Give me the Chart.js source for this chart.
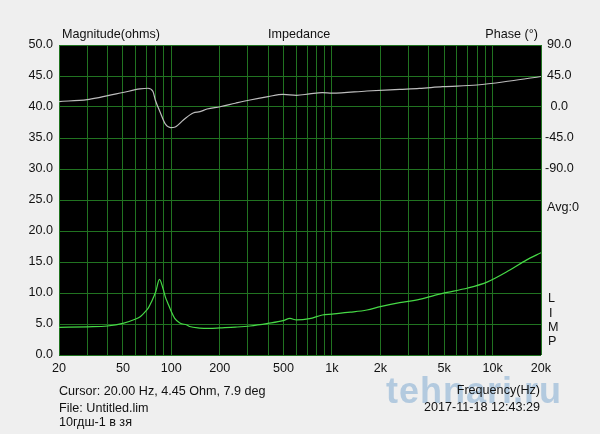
<!DOCTYPE html>
<html>
<head>
<meta charset="utf-8">
<script src="https://cdn.jsdelivr.net/npm/chart.js@4/dist/chart.umd.min.js"></script>
<style>
  html, body { margin: 0; padding: 0; background: #efefef; }
  #wrap { position: relative; width: 600px; height: 434px; overflow: hidden; font-family: "Liberation Sans", Arial, sans-serif; color: #111; }
  canvas { position: absolute; left: 0; top: 0; }
  .t { position: absolute; font-size: 12.6px; line-height: 14px; white-space: nowrap; z-index: 3; }
  .wm { position: absolute; z-index: 2; font-family: "Liberation Sans", Arial, sans-serif; font-weight: bold; font-size: 36px; letter-spacing: 1px; color: rgba(95,150,200,0.42); left: 386px; top: 371px; line-height: 40px; }
</style>
</head>
<body>
<div id="wrap">
  <canvas id="c" width="600" height="434"></canvas>
  <div class="t" style="left:62px; top:27px;">Magnitude(ohms)</div>
  <div class="t" style="left:268px; top:27px;">Impedance</div>
  <div class="t" style="right:62px; top:27px;">Phase (°)</div>
  <div class="t" style="left:547px; top:200px;">Avg:0</div>
  <div class="t" style="left:548px; top:291px;">L</div>
  <div class="t" style="left:549px; top:306px;">I</div>
  <div class="t" style="left:548px; top:320px;">M</div>
  <div class="t" style="left:548px; top:334px;">P</div>
  <div class="t" style="left:59px; top:384px;">Cursor: 20.00 Hz, 4.45 Ohm, 7.9 deg</div>
  <div class="t" style="left:59px; top:401px;">File: Untitled.lim</div>
  <div class="t" style="left:59px; top:415px;">10гдш-1 в зя</div>
  <div class="wm">tehnari.ru</div>
  <div class="t" style="right:60px; top:383px;">Frequency(Hz)</div>
  <div class="t" style="right:60px; top:400px;">2017-11-18 12:43:29</div>
</div>
<script>
const magFreq = [20,30,40,50,60,64,70,72,75,80,84.4,88.6,92,95,100,105,113,125,130,150,173,201,250,309,400,496,548,601,725,870,1000,1300,1650,2000,2640,3500,4880,7000,9300,12800,16200,20000];
const magOhm  = [4.45,4.55,4.68,5.1,5.8,6.18,7.2,7.6,8.5,10.2,12.2,10.8,9.3,8.4,7.0,5.9,5.16,4.84,4.6,4.35,4.3,4.38,4.5,4.68,5.1,5.54,5.9,5.65,5.86,6.45,6.6,6.9,7.26,7.8,8.44,8.98,9.95,10.8,11.8,13.7,15.3,16.5];
const phaseFreq = [20,30,36,50,63.8,71.6,76.9,79.5,85.4,91.8,98.9,105.8,118.9,136.8,151,167,201,250,309,400,496,601,725,870,1000,1650,2640,3500,4880,7990,12800,20000];
const phaseDeg  = [7.9,10.8,14.1,21,26.2,27.2,22.5,10.2,-8,-24.7,-29.8,-29,-18.9,-8.7,-6.8,-2.9,0.4,5.5,10.2,15,18.4,17,19,20.8,20,23.2,25.6,27,29.5,31.9,37.7,44.3];
const freqLabels = [20,50,100,200,500,1000,2000,5000,10000,20000];
const magTicks = [0,5,10,15,20,25,30,35,40,45,50];
const phaseTicks = [-90,-45,0,45,90];

const gridColor = '#217321';
const tickFont = { family: '"Liberation Sans", Arial, sans-serif', size: 12.6 };

const blackBg = {
  id: 'blackBg',
  beforeDraw(chart) {
    const a = chart.chartArea, ctx = chart.ctx;
    ctx.save();
    ctx.fillStyle = '#000';
    ctx.fillRect(a.left, a.top, a.right - a.left, a.bottom - a.top);
    ctx.restore();
  }
};

function fmtFreq(v) {
  return v >= 1000 ? (v / 1000) + 'k' : String(v);
}

new Chart(document.getElementById('c'), {
  type: 'line',
  data: {
    datasets: [
      {
        label: 'Magnitude',
        data: magFreq.map((f, i) => ({ x: f, y: magOhm[i] })),
        borderColor: '#46d846',
        borderWidth: 1.2,
        pointRadius: 0,
        cubicInterpolationMode: 'monotone',
        yAxisID: 'y'
      },
      {
        label: 'Phase',
        data: phaseFreq.map((f, i) => ({ x: f, y: phaseDeg[i] })),
        borderColor: '#bdbdbd',
        borderWidth: 1.2,
        pointRadius: 0,
        cubicInterpolationMode: 'monotone',
        yAxisID: 'y2'
      }
    ]
  },
  options: {
    responsive: false,
    animation: false,
    events: [],
    layout: { padding: { top: 45, left: 0, right: 0, bottom: 0 } },
    plugins: { legend: { display: false }, tooltip: { enabled: false }, title: { display: false } },
    scales: {
      x: {
        type: 'logarithmic',
        min: 20, max: 20000,
        afterBuildTicks(scale) {
          const t = [];
          for (let e = 10; e <= 10000; e *= 10) {
            for (let m = 1; m <= 9; m++) {
              const v = m * e;
              if (v >= 20 && v <= 20000) t.push({ value: v });
            }
          }
          scale.ticks = t;
        },
        afterFit(scale) { scale.height = 79; },
        ticks: {
          autoSkip: false, maxRotation: 0, minRotation: 0, padding: 6,
          color: '#111', font: tickFont,
          callback(v) { return freqLabels.includes(v) ? fmtFreq(v) : ''; }
        },
        grid: { color: gridColor, drawTicks: false, lineWidth: 1 },
        border: { display: false }
      },
      y: {
        position: 'left',
        min: 0, max: 50,
        afterBuildTicks(scale) { scale.ticks = magTicks.map(v => ({ value: v })); },
        afterFit(scale) { scale.width = 59; },
        ticks: {
          padding: 6, color: '#111', font: tickFont,
          callback(v) { return Number(v).toFixed(1); }
        },
        grid: { color: gridColor, drawTicks: false, lineWidth: 1 },
        border: { display: false }
      },
      y2: {
        position: 'right',
        min: -360, max: 90,
        afterBuildTicks(scale) { scale.ticks = phaseTicks.map(v => ({ value: v })); },
        afterFit(scale) { scale.width = 59; },
        ticks: {
          padding: 4, crossAlign: 'center', color: '#111', font: tickFont,
          callback(v) { return Number(v).toFixed(1); }
        },
        grid: { display: false, drawTicks: false },
        border: { display: false }
      }
    }
  },
  plugins: [blackBg]
});
</script>
</body>
</html>
